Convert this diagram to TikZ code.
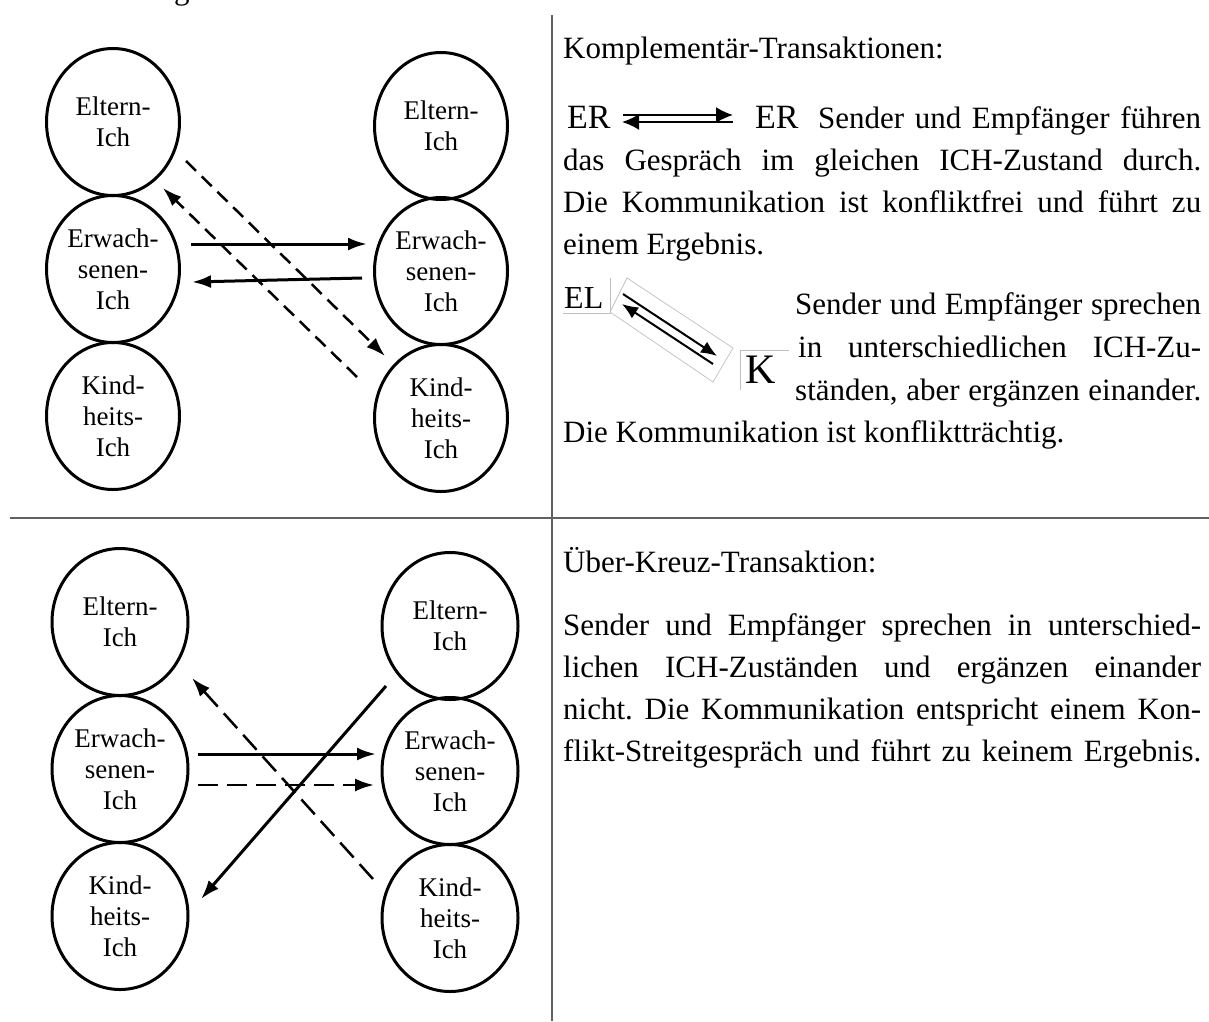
\documentclass[tikz,border=0pt]{standalone}
\usepackage{fontspec}
\setmainfont{Liberation Serif}
\usetikzlibrary{arrows.meta,shapes.geometric}
\newcommand{\txtsz}{\fontsize{31}{38}\selectfont\frenchspacing}
\newcommand{\cirsz}{\fontsize{27}{31}\selectfont}
\begin{document}
\begin{tikzpicture}[x=1pt,y=-1pt,
  ich/.style={ellipse,draw,line width=3pt,minimum width=133pt,minimum height=147pt,inner sep=0pt,align=center,font=\cirsz},
  sol/.style={line width=3pt},
  dsh/.style={line width=2.5pt,dash pattern=on 14pt off 8pt},
  dshl/.style={line width=2.5pt,dash pattern=on 20pt off 9pt},
  tip/.style={-{Latex[length=19pt,width=13pt]}},
  sep/.style={draw=black!62,line width=2.6pt},
  tl/.style={anchor=base west,inner sep=0pt,font=\txtsz},
  sym/.style={anchor=base west,inner sep=0pt},
  frame/.style={draw=black!25,line width=0.7pt},
  icon/.style={line width=2pt,-{Latex[length=16pt,width=13pt]}},
]
\useasboundingbox (0,0) rectangle (1209,1021);
% cut-off descender at top
\node[tl] (gfrag) at (174,-1) {g};
% separators
\coordinate (vtop) at (552,15);
\coordinate (vbot) at (552,1021);
\coordinate (hl) at (10,518);
\coordinate (hr) at (1209,518);
\draw[sep] (vtop) -- (vbot);
\draw[sep] (hl) -- (hr);

% ---------- top diagram ----------
\node[ich] (tl1) at (113,122) {Eltern-\\Ich};
\node[ich] (tl2) at (113,269) {Erwach-\\senen-\\Ich};
\node[ich] (tl3) at (113,416) {Kind-\\heits-\\Ich};
\node[ich] (tr1) at (441,126) {Eltern-\\Ich};
\node[ich] (tr2) at (441,271) {Erwach-\\senen-\\Ich};
\node[ich] (tr3) at (441,418) {Kind-\\heits-\\Ich};

\coordinate (ta1) at (191,244); \coordinate (ta2) at (367,244);
\coordinate (tb1) at (362,278); \coordinate (tb2) at (192,282);
\coordinate (tc1) at (186,161); \coordinate (tc2) at (385,356);
\coordinate (td1) at (357,377); \coordinate (td2) at (163,188);
\draw[sol,tip] (ta1) -- (ta2);
\draw[sol,tip] (tb1) -- (tb2);
\draw[dsh,tip] (tc1) -- (tc2);
\draw[dsh,tip] (td1) -- (td2);

% ---------- bottom diagram ----------
\node[ich,minimum width=136pt] (bl1) at (120,622) {Eltern-\\Ich};
\node[ich,minimum width=136pt] (bl2) at (120,769) {Erwach-\\senen-\\Ich};
\node[ich,minimum width=136pt] (bl3) at (120,916) {Kind-\\heits-\\Ich};
\node[ich,minimum width=136pt] (br1) at (450,626) {Eltern-\\Ich};
\node[ich,minimum width=136pt] (br2) at (450,771) {Erwach-\\senen-\\Ich};
\node[ich,minimum width=136pt] (br3) at (450,918) {Kind-\\heits-\\Ich};

\coordinate (ba1) at (198,754); \coordinate (ba2) at (376,754);
\coordinate (bb1) at (198,785); \coordinate (bb2) at (374,785);
\coordinate (bc1) at (386,686); \coordinate (bc2) at (201,899);
\coordinate (bd1) at (373,879); \coordinate (bd2) at (192,678);
\draw[sol,tip] (ba1) -- (ba2);
\draw[dshl,tip] (bb1) -- (bb2);
\draw[sol,tip] (bc1) -- (bc2);
\draw[dshl,tip] (bd1) -- (bd2);

% ---------- top text ----------
\node[tl] (k0) at (563,58) {Komplementär-Transaktionen:};
\node[sym,font=\fontsize{34}{34}\selectfont] (er1) at (567,128) {ER};
\coordinate (ea1) at (623,115); \coordinate (ea2) at (733,115);
\coordinate (eb1) at (733,122); \coordinate (eb2) at (622,122);
\draw[icon,-{Latex[length=17pt,width=16pt]}] (ea1) -- (ea2);
\draw[icon,-{Latex[length=17pt,width=16pt]}] (eb1) -- (eb2);
\node[sym,font=\fontsize{34}{34}\selectfont] (er2) at (755,128) {ER};
\node[tl] (k1) at (818,128) {\makebox[383pt][s]{Sender und Empfänger führen}};
\node[tl] (k2) at (563,170) {\makebox[638pt][s]{das Gespräch im gleichen ICH-Zustand durch.}};
\node[tl] (k3) at (563,212) {\makebox[638pt][s]{Die Kommunikation ist konfliktfrei und führt zu}};
\node[tl] (k4) at (563,254) {einem Ergebnis.};

\node[sym,font=\fontsize{32}{32}\selectfont] (el) at (564,308) {EL};
\coordinate (elb1) at (610,278); \coordinate (elb2) at (610,313); \coordinate (elb3) at (563,313);
\draw[frame] (elb1) -- (elb2) -- (elb3);
\coordinate (fr1) at (627,278); \coordinate (fr2) at (733,348);
\coordinate (fr3) at (713,382); \coordinate (fr4) at (610,312);
\draw[frame] (fr1) -- (fr2) -- (fr3) -- (fr4) -- cycle;
\coordinate (ia1) at (623,294); \coordinate (ia2) at (717,356);
\coordinate (ib1) at (713,364); \coordinate (ib2) at (622,304);
\draw[icon] (ia1) -- (ia2);
\draw[icon] (ib1) -- (ib2);
\node[sym,font=\fontsize{42}{42}\selectfont] (kk) at (745,383) {K};
\coordinate (kb1) at (740,390); \coordinate (kb2) at (740,350); \coordinate (kb3) at (789,350);
\draw[frame] (kb1) -- (kb2) -- (kb3);

\node[tl] (k5) at (795,314) {\makebox[406pt][s]{Sender und Empfänger sprechen}};
\node[tl] (k6) at (798,357) {\makebox[403pt][s]{in unterschiedlichen ICH-Zu-}};
\node[tl] (k7) at (795,400) {\makebox[406pt][s]{ständen, aber ergänzen einander.}};
\node[tl] (k8) at (563,442) {Die Kommunikation ist konfliktträchtig.};

% ---------- bottom text ----------
\node[tl] (u0) at (563,572) {Über-Kreuz-Transaktion:};
\node[tl] (u1) at (563,635) {\makebox[638pt][s]{Sender und Empfänger sprechen in unterschied-}};
\node[tl] (u2) at (563,677) {\makebox[638pt][s]{lichen ICH-Zuständen und ergänzen einander}};
\node[tl] (u3) at (563,719) {\makebox[638pt][s]{nicht. Die Kommunikation entspricht einem Kon-}};
\node[tl] (u4) at (563,761) {\makebox[638pt][s]{flikt-Streitgespräch und führt zu keinem Ergebnis.}};
\end{tikzpicture}
\end{document}
